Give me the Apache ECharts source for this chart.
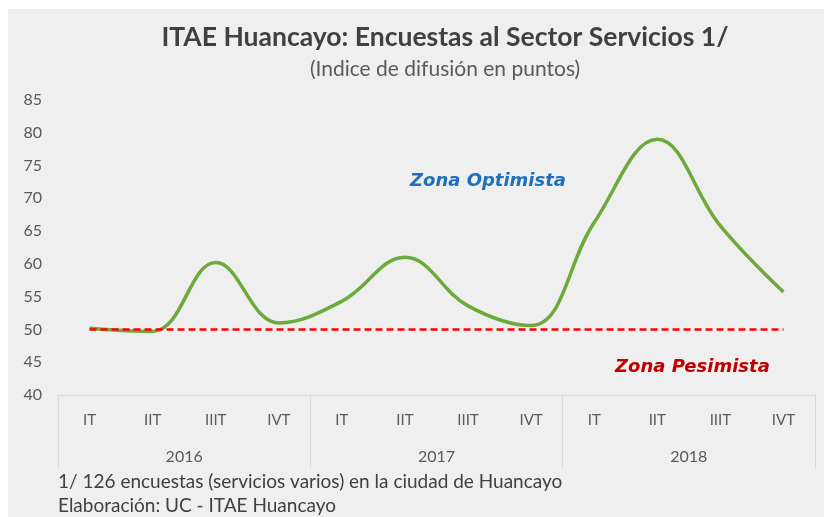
<!DOCTYPE html>
<html>
<head>
<meta charset="utf-8">
<script src="https://cdn.jsdelivr.net/npm/echarts@6/dist/echarts.min.js"></script>
<style>
  html, body { margin: 0; padding: 0; background: #fff; }
  #chart {
    width: 824px; height: 517px;
    background: #efefef;
    box-shadow: inset 8px 9px 0 #fff;
  }
</style>
</head>
<body>
<div id="chart"></div>
<script>
const quarters = ['IT', 'IIT', 'IIIT', 'IVT', 'IT', 'IIT', 'IIIT', 'IVT', 'IT', 'IIT', 'IIIT', 'IVT'];
const years = ['2016', '2017', '2018'];
const itae = [50.2, 49.7, 60.2, 51.0, 54.3, 61.0, 53.6, 50.6, 66.3, 79.0, 65.8, 55.7];
const neutral = [50, 50, 50, 50, 50, 50, 50, 50, 50, 50, 50, 50];

const font = 'Lato, "Open Sans", sans-serif';
const zoneFont = '"DejaVu Sans", Verdana, sans-serif';
const chart = echarts.init(document.getElementById('chart'));

const option = {
    animation: false,
    title: [
        {
            text: 'ITAE Huancayo: Encuestas al Sector Servicios 1/',
            left: 445, top: 24, padding: 0, textAlign: 'center',
            textStyle: { fontFamily: font, fontSize: 26.5, fontWeight: 'bold', color: '#404040' }
        },
        {
            text: '(Indice de difusión en puntos)',
            left: 445, top: 59, padding: 0, textAlign: 'center',
            textStyle: { fontFamily: font, fontSize: 21, fontWeight: 'normal', color: '#595959' }
        }
    ],
    grid: { left: 58, right: 9, top: 100, bottom: 122 },
    xAxis: [
        {
            type: 'category',
            data: quarters,
            position: 'bottom',
            axisLine: { show: true, onZero: false, lineStyle: { color: '#d9d9d9', width: 1 } },
            axisTick: { show: false },
            axisLabel: { interval: 0, margin: 18, color: '#595959', fontFamily: font, fontSize: 15 }
        },
        {
            type: 'category',
            data: years,
            position: 'bottom',
            axisLine: { show: false, onZero: false },
            axisTick: { show: true, length: 73, interval: 0, lineStyle: { color: '#d9d9d9', width: 1 } },
            axisLabel: { interval: 0, margin: 54, color: '#595959', fontFamily: font, fontSize: 16 }
        }
    ],
    yAxis: {
        type: 'value',
        min: 40, max: 85, interval: 5,
        axisLine: { show: false },
        axisTick: { show: false },
        splitLine: { show: false },
        axisLabel: { margin: 16, color: '#595959', fontFamily: font, fontSize: 16 }
    },
    series: [
        {
            name: 'ITAE',
            type: 'line',
            data: itae,
            smooth: 0.4,
            showSymbol: false,
            lineStyle: { color: '#6aab3c', width: 3.5 },
            z: 2
        },
        {
            name: 'Neutral',
            type: 'line',
            data: neutral,
            showSymbol: false,
            lineStyle: { color: '#ff0000', width: 2.5, type: [7, 4] },
            z: 3
        }
    ],
    graphic: [
        {
            type: 'text', left: 410, top: 172,
            style: { text: 'Zona Optimista', font: 'italic bold 18px ' + zoneFont, fill: '#1f6fc1' }
        },
        {
            type: 'text', left: 615, top: 358,
            style: { text: 'Zona Pesimista', font: 'italic bold 18px ' + zoneFont, fill: '#c00000' }
        },
        {
            type: 'text', left: 58, top: 472,
            style: { text: '1/ 126 encuestas (servicios varios) en la ciudad de Huancayo', font: '19px ' + font, fill: '#404040' }
        },
        {
            type: 'text', left: 58, top: 496,
            style: { text: 'Elaboración: UC - ITAE Huancayo', font: '19px ' + font, fill: '#404040' }
        }
    ]
};

chart.setOption(option);
</script>
</body>
</html>
